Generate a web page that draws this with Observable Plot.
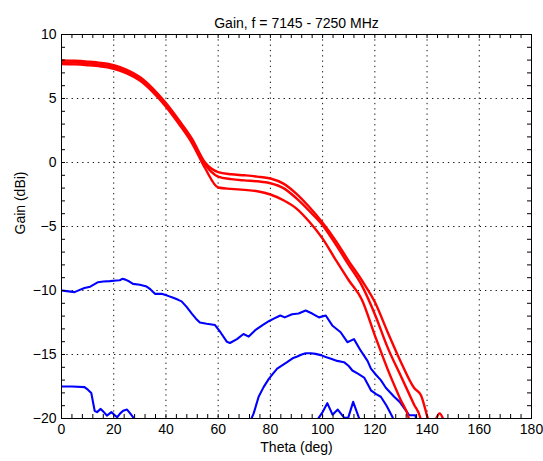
<!DOCTYPE html>
<html><head><meta charset="utf-8">
<script src="https://cdn.jsdelivr.net/npm/d3@7"></script>
<script src="https://cdn.jsdelivr.net/npm/@observablehq/plot@0.6"></script>
<style>body{margin:0;background:#fff;} #chart svg{display:block;}</style>
</head><body><div id="chart"></div>
<script>
const titleText = "Gain, f = 7145 - 7250 MHz";
const xLabel = "Theta (deg)";
const yLabel = "Gain (dBi)";
const xTicks = [0,20,40,60,80,100,120,140,160,180];
const yTicks = [-20,-15,-10,-5,0,5,10];
const xGridTicks = [20,40,60,80,100,120,140,160];
const yGridTicks = [-15,-10,-5,0,5];
const xMinorTicks = [0,4,8,12,16,20,24,28,32,36,40,44,48,52,56,60,64,68,72,76,80,84,88,92,96,100,104,108,112,116,120,124,128,132,136,140,144,148,152,156,160,164,168,172,176,180];
const yMinorTicks = [-20,-19,-18,-17,-16,-15,-14,-13,-12,-11,-10,-9,-8,-7,-6,-5,-4,-3,-2,-1,0,1,2,3,4,5,6,7,8,9,10];

// Co-polar gain curves (red)
const thetaA = [0,5,10,15,20,25,30,35,40,45,50,55,60,65,70,75,80,85,90,95,100,105,110,115,120,125,130,135,137.7,140.3,141.5,143.3,144.8,146.3,147.8];
const gainA  = [7.98,7.95,7.88,7.78,7.6,7.24,6.68,5.78,4.64,3.3,1.85,0.0,-0.75,-0.92,-1.0,-1.1,-1.25,-1.65,-2.45,-3.5,-4.7,-6.1,-7.7,-9.2,-10.9,-13.3,-15.6,-17.6,-18.2,-20,-20.8,-20.1,-19.6,-20.1,-21];
const thetaB = [0,5,10,15,20,25,30,35,40,45,50,55,60,65,70,75,80,85,90,95,100,105,110,115,120,125,130,135,137.5,138.5];
const gainB  = [7.84,7.81,7.74,7.64,7.46,7.1,6.54,5.64,4.5,3.15,1.68,-0.15,-1.1,-1.3,-1.4,-1.47,-1.62,-2.0,-2.8,-3.8,-4.9,-6.4,-8.0,-9.6,-11.85,-14.5,-16.7,-18.9,-20,-21];
const thetaC = [0,5,10,15,20,25,30,35,40,45,50,55,60,65,70,75,80,85,90,95,100,105,110,115,120,125,130,133,134];
const gainC  = [7.7,7.67,7.6,7.5,7.32,6.96,6.4,5.5,4.36,3.0,1.5,-0.45,-1.95,-2.06,-2.14,-2.25,-2.5,-2.95,-3.6,-4.65,-5.95,-7.6,-9.2,-10.7,-13.5,-16.2,-18.6,-20,-21];

// Cross-polar gain curves (blue)
const thetaX1 = [0,2,5,7,8.8,11,14,16,18.5,21,22.3,23.3,24.5,26,27.4,30,32.6,34,35.8,38.3,40.5,42.8,44.7,46,48,49.9,51.5,53,55.6,58.8,61,63.3,64.5,67.2,69.7,71.7,74.2,77,79.4,81.3,83.8,85.5,88.3,90.8,93.5,96,98.6,101.2,103.7,106.9,109.5,112,114.6,117.2,118.5,120.5,122.3,124.2,127.4,129.5,131.3,133.2,135.5,136.5];
const gainX1  = [-10,-10.05,-10.13,-9.95,-9.8,-9.7,-9.35,-9.3,-9.27,-9.22,-9.2,-9.09,-9.15,-9.3,-9.48,-9.55,-9.69,-9.9,-10.26,-10.26,-10.4,-10.57,-10.73,-10.85,-11.3,-11.8,-12.2,-12.5,-12.6,-12.7,-13.3,-14.0,-14.1,-13.8,-13.4,-13.6,-13.1,-12.7,-12.4,-12.2,-11.95,-12.1,-11.86,-11.8,-11.56,-11.8,-12.1,-11.95,-12.73,-13.26,-14.04,-13.8,-14.7,-15.5,-16.1,-16.6,-17.0,-17.6,-18.3,-18.7,-19.2,-19.75,-19.75,-20.6];
const thetaX2a = [0,4,8.8,10.1,11.4,12.7,13.6,15,16.2,17.4,19.1,20.2,21.3,22.5,23.6,25.1,26.3,27.4,28.2];
const gainX2a  = [-17.5,-17.5,-17.55,-17.75,-18.0,-19.4,-19.5,-19.25,-19.5,-19.77,-19.5,-19.7,-19.9,-19.6,-19.4,-19.3,-19.6,-19.9,-20.5];
const thetaX2b = [71.5,73.6,75.5,77.4,79.4,81,82.6,84.5,86.4,88.5,90.3,92,93.5,95.5,97.3,99.3,101.2,103.5,105.6,108.2,110,111.4,113.5,115.9,117.5,118.5,120.5,122.3,124.5,126.8,127.8];
const gainX2b  = [-20.6,-19.6,-18.3,-17.55,-16.9,-16.5,-16.1,-15.85,-15.6,-15.3,-15.16,-15.0,-14.9,-14.9,-14.95,-15.05,-15.2,-15.35,-15.5,-15.6,-15.9,-16.25,-16.5,-16.8,-17.4,-17.8,-18.1,-18.3,-19.0,-19.9,-20.6];
const thetaX3 = [96,98.5,100,101.8,103.8,105.8,108.3,109.8,111.7,114,115];
const gainX3  = [-20.6,-19.95,-19.5,-18.8,-19.7,-19.3,-19.95,-19.95,-18.7,-20,-20.8];

const toRows = (t, g) => t.map((v, i) => ({theta: v, gain: g[i]}));
const redSeries = [toRows(thetaA, gainA), toRows(thetaB, gainB), toRows(thetaC, gainC)];
const blueSeries = [toRows(thetaX1, gainX1), toRows(thetaX2a, gainX2a), toRows(thetaX2b, gainX2b), toRows(thetaX3, gainX3)];

const W = 543, H = 461, mL = 61, mR = 12, mT = 34, mB = 43;
const fw = W - mL - mR, fh = H - mT - mB, tl = 4;
const font = "'Liberation Sans', Arial, Helvetica, sans-serif";

const chart = Plot.plot({
  width: W, height: H,
  marginLeft: mL, marginRight: mR, marginTop: mT, marginBottom: mB,
  style: {fontFamily: font, fontSize: "14px", color: "black", background: "white", overflow: "visible"},
  x: {domain: [0, 180]},
  y: {domain: [-20, 10]},
  marks: [
    Plot.gridX({ticks: xGridTicks, stroke: "#111", strokeOpacity: 1, strokeWidth: 1, strokeDasharray: "1.3,4"}),
    Plot.gridY({ticks: yGridTicks, stroke: "#111", strokeOpacity: 1, strokeWidth: 1, strokeDasharray: "1.3,4"}),
    ...blueSeries.map(s => Plot.line(s, {x: "theta", y: "gain", stroke: "#0000ff", strokeWidth: 2.1, clip: true})),
    ...redSeries.map(s => Plot.line(s, {x: "theta", y: "gain", stroke: "#ff0000", strokeWidth: 2.4, curve: "monotone-x", clip: true})),
    Plot.tickX(xMinorTicks, {x: d => d, insetTop: fh - tl, stroke: "black"}),
    Plot.tickX(xMinorTicks, {x: d => d, insetBottom: fh - tl, stroke: "black"}),
    Plot.tickY(yMinorTicks, {y: d => d, insetRight: fw - tl, stroke: "black"}),
    Plot.tickY(yMinorTicks, {y: d => d, insetLeft: fw - tl, stroke: "black"}),
    Plot.frame({stroke: "black"}),
    Plot.axisX({ticks: xTicks, anchor: "bottom", tickSize: 0, tickPadding: 6, label: null, fontSize: 14}),
    Plot.axisY({ticks: yTicks, anchor: "left", tickSize: 0, tickPadding: 5, label: null, fontSize: 14}),
    Plot.text([titleText], {text: d => d, frameAnchor: "top", dy: -16, fontSize: 14}),
    Plot.text([xLabel], {text: d => d, frameAnchor: "bottom", dy: 33, fontSize: 14}),
    Plot.text([yLabel], {text: d => d, frameAnchor: "left", dx: -41, dy: 8, rotate: -90, fontSize: 14})
  ]
});
document.getElementById("chart").appendChild(chart);
</script>
</body></html>
